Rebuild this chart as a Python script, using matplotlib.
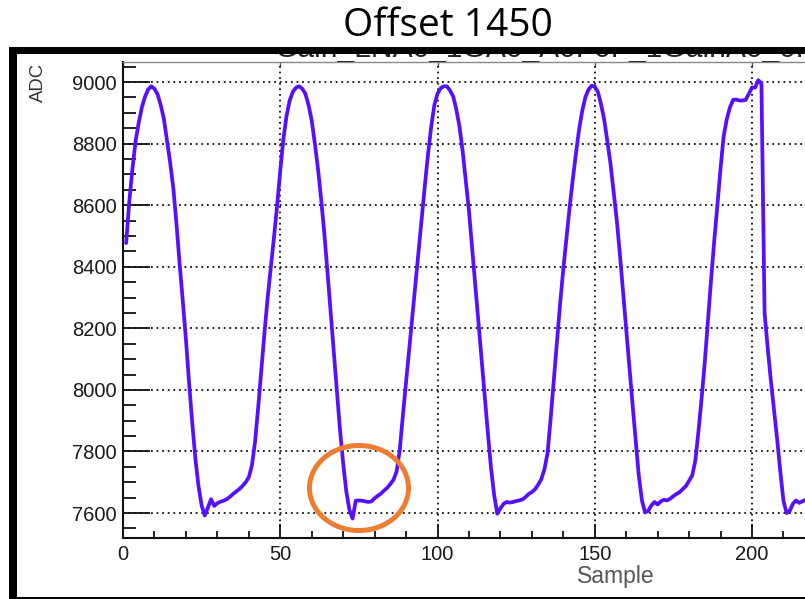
import matplotlib
matplotlib.use("Agg")
import matplotlib.pyplot as plt
from matplotlib.patches import Rectangle, Ellipse
from matplotlib.ticker import MultipleLocator, FixedLocator
from matplotlib.transforms import Bbox

# ---- data -------------------------------------------------------------
samples = list(range(1, 218))
adc = [
    8477, 8612, 8718, 8808, 8868, 8918, 8952, 8976, 8986, 8978,
    8960, 8925, 8880, 8810, 8738, 8655, 8540, 8410, 8290, 8165,
    8025, 7895, 7778, 7688, 7625, 7592, 7618, 7645, 7623, 7632,
    7637, 7640, 7645, 7653, 7662, 7670, 7678, 7688, 7700, 7716,
    7755, 7832, 7945, 8068, 8188, 8300, 8398, 8495, 8598, 8712,
    8815, 8890, 8940, 8968, 8982, 8986, 8978, 8962, 8925, 8875,
    8800, 8718, 8620, 8510, 8385, 8255, 8125, 7998, 7870, 7762,
    7670, 7610, 7582, 7640, 7641, 7640, 7638, 7636, 7638, 7648,
    7656, 7663, 7673, 7682, 7694, 7708, 7735, 7805, 7918, 8025,
    8135, 8242, 8348, 8455, 8562, 8666, 8767, 8855, 8925, 8962,
    8980, 8986, 8986, 8972, 8953, 8910, 8855, 8775, 8680, 8582,
    8462, 8338, 8225, 8105, 7985, 7862, 7748, 7660, 7598, 7615,
    7630, 7636, 7634, 7636, 7639, 7641, 7644, 7652, 7662, 7668,
    7677, 7692, 7710, 7742, 7795, 7910, 8032, 8158, 8282, 8392,
    8492, 8592, 8682, 8766, 8845, 8905, 8950, 8975, 8988, 8985,
    8968, 8928, 8878, 8808, 8735, 8645, 8552, 8440, 8318, 8195,
    8075, 7955, 7838, 7722, 7641, 7602, 7607, 7625, 7636, 7628,
    7638, 7643, 7641, 7647, 7655, 7662, 7668, 7678, 7688, 7705,
    7722, 7772, 7868, 7975, 8092, 8225, 8360, 8485, 8600, 8720,
    8825, 8880, 8918, 8942, 8943, 8940, 8940, 8942, 8962, 8982,
    8982, 9006, 8995, 8250, 8135, 8030, 7935, 7840, 7735, 7640,
    7600, 7607, 7630, 7641, 7633, 7638, 7643,
]
y_major = [7600, 7800, 8000, 8200, 8400, 8600, 8800, 9000]
x_major = [0, 50, 100, 150, 200]

title = "Offset 1450"
hist_title = "Gain_LNA0_1GA0_A0F0F_1GainA0_0F"
x_title = "Sample"
y_title = "ADC"

# ---- canvas -----------------------------------------------------------
W, H = 805, 599
fig = plt.figure(figsize=(W / 100, H / 100), dpi=100)
fig.patch.set_facecolor("white")


def fx(px):
    return px / W


def fy(py):
    return 1 - py / H


ax_left, ax_top, ax_bottom = 123, 62, 538
ax = fig.add_axes([fx(ax_left), fy(ax_bottom), 1 - fx(ax_left),
                   (ax_bottom - ax_top) / H])

ax.plot(samples, adc, color="#5511ff", lw=2.7, solid_joinstyle="round",
        solid_capstyle="round", zorder=3)

ax.set_xlim(0, (W - ax_left) / 3.145)
ax.set_ylim(7519, 9065)

ax.xaxis.set_major_locator(FixedLocator(x_major))
ax.xaxis.set_minor_locator(MultipleLocator(10))
ax.yaxis.set_major_locator(FixedLocator(y_major))
ax.yaxis.set_minor_locator(MultipleLocator(50))

ax.grid(which="major", linestyle=(0, (1, 2.1)), color="#111111", lw=1.3)
ax.set_axisbelow(True)

ax.tick_params(axis="y", which="major", direction="in", length=19.5,
               width=1.3, pad=4.3, labelsize=14.5, labelcolor="#1a1a1a",
               color="#111111")
ax.tick_params(axis="y", which="minor", direction="in", length=9.7,
               width=1.3, color="#111111")
ax.tick_params(axis="x", which="major", direction="in", length=10,
               width=1.3, pad=5, labelsize=14.5, labelcolor="#1a1a1a",
               color="#111111")
ax.tick_params(axis="x", which="minor", direction="in", length=5,
               width=1.3, color="#111111")
for lab in ax.get_xticklabels() + ax.get_yticklabels():
    lab.set_family("Liberation Sans")

for side in ("left", "bottom"):
    ax.spines[side].set_color("#111111")
    ax.spines[side].set_linewidth(1.5)
ax.spines["right"].set_visible(False)
ax.spines["top"].set_color("#888888")
ax.spines["top"].set_linewidth(1.0)

top = ax.secondary_xaxis("top")
top.xaxis.set_major_locator(FixedLocator(x_major))
top.tick_params(direction="in", length=3, width=1.0, color="#555555",
                labeltop=False)
top.spines["top"].set_visible(False)

# axis titles
fig.text(fx(38), fy(63), y_title, rotation=90, ha="center", va="top",
         family="Liberation Sans", fontsize=13.3, color="#333333")
fig.text(fx(655), fy(576), x_title, ha="right", va="center",
         family="Liberation Sans", fontsize=16.5, color="#555555")

# main title
fig.text(fx(448), fy(26), title, ha="center", va="center",
         family="Open Sans", fontsize=28, color="black")

# histogram title, mostly hidden behind the frame
ht = fig.text(fx(275), fy(57), hist_title, ha="left", va="baseline",
              family="Liberation Sans", fontsize=21.6, color="#222222",
              clip_on=True)
ht.set_clip_box(Bbox([[0, H - 62], [W, H - 54]]))

# frame
frame_kw = dict(transform=fig.transFigure, facecolor="black",
                edgecolor="none", zorder=10)
fig.add_artist(Rectangle((fx(9), 0), 8 / W, fy(47), **frame_kw))
fig.add_artist(Rectangle((fx(9), fy(54)), 1, 7 / H, **frame_kw))
fig.add_artist(Rectangle((fx(9), 0), 1, 2.5 / H, **frame_kw))

# highlight ring
fig.add_artist(Ellipse((fx(359), fy(488)), 99 / W, 85 / H,
                       transform=fig.transFigure, fill=False,
                       edgecolor="#ED7D31", lw=3.6, zorder=11))

fig.savefig("out.png", dpi=100)
